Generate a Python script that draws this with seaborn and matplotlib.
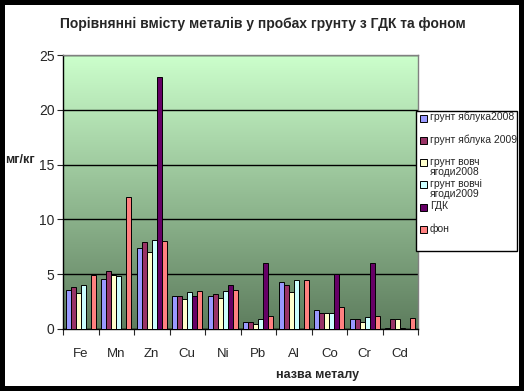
import numpy as np
import pandas as pd
import matplotlib
matplotlib.use("Agg")
import matplotlib.pyplot as plt
from matplotlib.colors import LinearSegmentedColormap
from matplotlib.patches import Rectangle
import seaborn as sns

metals = ["Fe", "Mn", "Zn", "Cu", "Ni", "Pb", "Al", "Co", "Cr", "Cd"]
series = ["грунт яблука2008", "грунт яблука 2009", "грунт вовч\nягоди2008",
          "грунт вовчі\nягоди2009", "ГДК", "фон"]
apple_2008 = [3.6, 4.6, 7.35, 3.05, 3.05, 0.65, 4.25, 1.7, 0.95, 0.05]
apple_2009 = [3.85, 5.25, 7.9, 3.05, 3.15, 0.6, 4.05, 1.5, 0.95, 0.95]
berry_2008 = [3.25, 4.95, 7.0, 2.7, 2.8, 0.5, 3.35, 1.5, 0.65, 0.95]
berry_2009 = [4.05, 4.8, 8.1, 3.35, 3.45, 0.95, 4.45, 1.45, 1.05, 0.05]
gdk = [np.nan, np.nan, 23.0, 3.05, 4.05, 6.0, np.nan, 5.0, 6.0, np.nan]
fon = [4.95, 12.0, 8.0, 3.5, 3.6, 1.15, 4.5, 2.05, 1.15, 1.0]
colors = ["#9999FF", "#993366", "#FFFFCC", "#CCFFFF", "#660066", "#FF8080"]

values = [apple_2008, apple_2009, berry_2008, berry_2009, gdk, fon]
rows = []
for name, vals in zip(series, values):
    for m, v in zip(metals, vals):
        rows.append({"metal": m, "series": name, "value": v})
df = pd.DataFrame(rows).dropna()

sns.set_style("white")
plt.rcParams["font.family"] = ["Liberation Sans", "DejaVu Sans"]

W, H = 524, 391
fig = plt.figure(figsize=(W / 100, H / 100), dpi=100)
fig.patch.set_facecolor("white")
fig.patch.set_edgecolor("black")
fig.patch.set_linewidth(7)

x0, x1, y0, y1 = 63, 418, 55, 329
ax = fig.add_axes([x0 / W, 1 - y1 / H, (x1 - x0) / W, (y1 - y0) / H])

# gradient background
grad = np.linspace(0, 1, 256).reshape(-1, 1)
cmap = LinearSegmentedColormap.from_list("g", ["#5E7D5E", "#CCFFCC"])
ax.imshow(grad, extent=[0, 1, 0, 1], transform=ax.transAxes, origin="lower",
          aspect="auto", cmap=cmap, zorder=0)

sns.barplot(data=df, x="metal", y="value", hue="series", order=metals,
            hue_order=series, palette=colors, saturation=1, width=0.85,
            edgecolor="black", linewidth=0.7, errorbar=None, legend=False,
            ax=ax, zorder=3)

ax.set_xlim(-0.5, len(metals) - 0.5)
ax.set_ylim(0, 25)
ax.set_yticks([0, 5, 10, 15, 20, 25])
ax.yaxis.grid(True, color="black", linewidth=1)
ax.set_axisbelow(True)

ax.set_xticks(np.arange(len(metals) + 1) - 0.5, minor=False)
ax.set_xticklabels([])
ax.set_xticks(np.arange(len(metals)), minor=True)
ax.set_xticklabels(metals, minor=True, fontsize=9.5)
ax.tick_params(axis="x", which="major", direction="out", length=4, width=0.8,
               bottom=True)
ax.tick_params(axis="x", which="minor", length=0, pad=14)
ax.tick_params(axis="y", direction="out", length=4, width=0.8, left=True,
               labelsize=10, pad=2)

for s in ["left", "bottom"]:
    ax.spines[s].set_color("black")
    ax.spines[s].set_linewidth(1)
for s in ["top", "right"]:
    ax.spines[s].set_color("#808080")
    ax.spines[s].set_linewidth(1)

ax.set_xlabel("")
ax.set_ylabel("")

fig.text(263 / W, 1 - 24 / H, "Порівнянні вмісту металів у пробах грунту з ГДК та фоном",
         ha="center", va="center", fontsize=10, fontweight="bold")
fig.text(318 / W, 1 - 375 / H, "назва металу", ha="center", va="center",
         fontsize=9, fontweight="bold")
fig.text(5 / W, 1 - 160 / H, "мг/кг", ha="left", va="center",
         fontsize=9, fontweight="bold")

# legend box
lx0, ly0, lx1, ly1 = 416, 111, 517, 251
fig.patches.append(Rectangle((lx0 / W, 1 - ly1 / H), (lx1 - lx0) / W, (ly1 - ly0) / H,
                             transform=fig.transFigure, facecolor="white",
                             edgecolor="black", linewidth=1, zorder=5))
for i, (name, col) in enumerate(zip(series, colors)):
    yc = 118 + i * 22.3
    fig.patches.append(Rectangle((420 / W, 1 - (yc + 3.5) / H), 7 / W, 7 / H,
                                 transform=fig.transFigure, facecolor=col,
                                 edgecolor="black", linewidth=0.7, zorder=6))
    fig.text(430 / W, 1 - (yc - 6) / H, name, ha="left", va="top",
             fontsize=7.5, linespacing=1.05, zorder=7)

fig.savefig("out.png", dpi=100)
